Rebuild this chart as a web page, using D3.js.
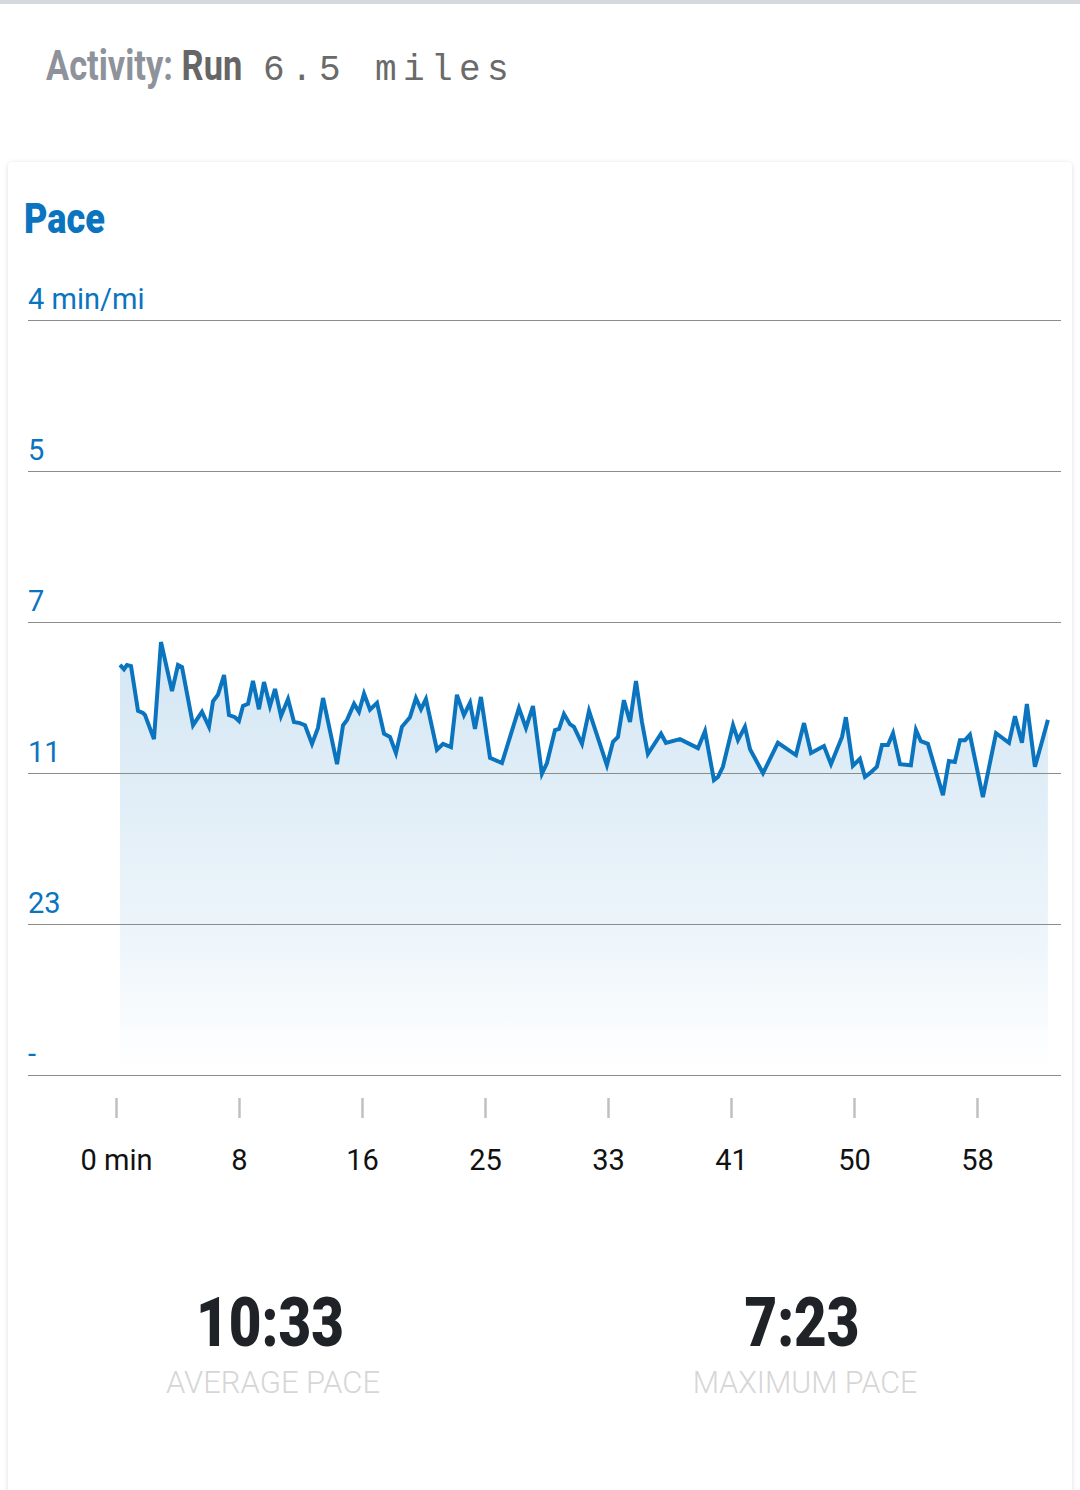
<!DOCTYPE html>
<html><head><meta charset="utf-8">
<script src="https://cdn.jsdelivr.net/npm/d3@7"></script>
<style>body{margin:0;background:#fff;} svg{display:block}</style>
</head><body>
<svg id="c" width="1080" height="1490"></svg>
<script>
// elapsed time (minutes)
const times = [0.20,0.47,0.67,0.94,1.41,1.74,1.88,2.48,2.95,3.69,4.09,4.36,5.10,5.70,6.17,6.44,6.77,7.18,7.51,7.91,
8.18,8.45,8.79,9.12,9.52,9.86,10.26,10.60,11.00,11.47,11.87,12.27,12.61,13.08,13.48,13.82,14.76,15.16,15.43,15.90,
16.23,16.57,16.97,17.44,17.91,18.31,18.71,19.11,19.65,20.05,20.39,20.72,21.46,21.87,22.40,22.80,23.27,23.68,24.01,24.41,
25.02,25.82,26.96,27.43,27.90,28.50,28.84,29.38,29.65,29.98,30.38,30.65,31.19,31.66,32.86,33.27,33.60,34.00,34.41,34.81,
35.21,35.61,36.49,36.82,37.76,38.97,39.44,40.04,40.31,40.64,41.32,41.65,42.12,42.46,43.33,44.33,45.54,46.08,46.55,47.42,
47.89,48.63,48.89,49.36,49.83,50.17,50.50,50.97,51.31,51.71,52.05,52.52,53.25,53.59,53.92,54.39,55.40,55.80,56.20,56.54,
56.88,57.21,58.08,58.96,59.83,60.23,60.70,61.03,61.57,62.11,62.44];
// speed (mph)
const speeds = [7.69,7.61,7.69,7.67,6.83,6.79,6.75,6.30,8.12,7.20,7.69,7.65,6.56,6.81,6.53,7.01,7.13,7.50,6.75,6.71,
6.64,6.92,6.96,7.39,6.86,7.37,6.92,7.24,6.73,7.05,6.62,6.60,6.56,6.21,6.51,7.07,5.83,6.56,6.66,6.96,
6.81,7.15,6.85,6.98,6.40,6.34,6.04,6.53,6.71,7.07,6.86,7.05,6.10,6.21,6.15,7.13,6.75,6.98,6.49,7.09,
5.95,5.85,6.88,6.51,6.92,5.65,5.85,6.47,6.49,6.77,6.58,6.53,6.21,6.83,5.81,6.25,6.34,7.03,6.62,7.39,
6.62,6.02,6.40,6.23,6.30,6.13,6.45,5.53,5.59,5.78,6.56,6.28,6.53,6.11,5.66,6.23,6.00,6.60,6.04,6.17,
5.83,6.34,6.71,5.80,5.93,5.59,5.66,5.78,6.19,6.19,6.41,5.83,5.81,6.47,6.26,6.21,5.25,5.89,5.87,6.28,
6.28,6.38,5.21,6.41,6.23,6.73,6.23,6.96,5.78,6.32,6.66];

const yTickValues = [0, 2.832, 5.664, 8.496, 11.328, 14.16];
const yTickLabels = ["-", "23", "11", "7", "5", "4 min/mi"];
const xTickValues = [0, 8.25, 16.5, 24.75, 33, 41.25, 49.5, 57.75];
const xTickLabels = ["0 min", "8", "16", "25", "33", "41", "50", "58"];
const statValues = ["10:33", "7:23"];
const statLabels = ["AVERAGE PACE", "MAXIMUM PACE"];

const BLUE = "#0a74bf";
const svg = d3.select("#c");
const defs = svg.append("defs");
const f = defs.append("filter").attr("id","sh").attr("x","-5%").attr("y","-5%").attr("width","110%").attr("height","110%");
f.append("feDropShadow").attr("dx",0).attr("dy",1).attr("stdDeviation",2.5).attr("flood-color","#000").attr("flood-opacity",0.14);

const g1 = defs.append("linearGradient").attr("id","ag").attr("gradientUnits","userSpaceOnUse")
  .attr("x1",0).attr("x2",0).attr("y1",640).attr("y2",1070);
g1.append("stop").attr("offset",0).attr("stop-color","#0a74bf").attr("stop-opacity",0.18);
g1.append("stop").attr("offset",0.7).attr("stop-color","#0a74bf").attr("stop-opacity",0.07);
g1.append("stop").attr("offset",1).attr("stop-color","#0a74bf").attr("stop-opacity",0.0);

// top border
svg.append("rect").attr("x",0).attr("y",0).attr("width",1080).attr("height",4).attr("fill","#d5d8dc");

// header
const hg = svg.append("g").attr("transform","translate(46,80) scale(0.82,1)");
const ht = hg.append("text").attr("font-family","Roboto").attr("font-weight",700).attr("font-size",42);
ht.append("tspan").attr("fill","#8e929a").text("Activity: ");
ht.append("tspan").attr("fill","#666").text("Run");
svg.append("text").attr("x",263).attr("y",80).attr("font-family","Liberation Mono, monospace")
  .attr("font-size",36).attr("letter-spacing",6.4).attr("fill","#6a6a6a").text("6.5 miles");

// card
svg.append("rect").attr("x",8).attr("y",162).attr("width",1064).attr("height",1340).attr("rx",5)
  .attr("fill","#fff").attr("filter","url(#sh)");

svg.append("g").attr("transform","translate(24,233) scale(0.86,1)")
  .append("text").attr("font-family","Roboto").attr("font-weight",900).attr("font-size",42)
  .attr("fill",BLUE).text("Pace");

const x = d3.scaleLinear().domain([0, 62.5]).range([117, 1048.8]);
const y = d3.scaleLinear().domain([0, 14.16]).range([1075, 320]);
const data = times.map((t,i)=>({t, v:speeds[i]}));

// area
svg.append("path").datum(data)
  .attr("d", d3.area().x(d=>x(d.t)).y0(y(0)).y1(d=>y(d.v)))
  .attr("fill","url(#ag)");

// grid + y labels
yTickValues.forEach((v,i)=>{
  svg.append("line").attr("x1",28).attr("x2",1061).attr("y1",Math.round(y(v))+0.5).attr("y2",Math.round(y(v))+0.5)
    .attr("stroke","#8c8c8c").attr("stroke-width",1);
  svg.append("text").attr("x",28).attr("y",y(v)-11).attr("font-family","Roboto").attr("font-size",29)
    .attr("fill",BLUE).text(yTickLabels[i]);
});

// line
svg.append("path").datum(data)
  .attr("d", d3.line().x(d=>x(d.t)).y(d=>y(d.v)))
  .attr("fill","none").attr("stroke",BLUE).attr("stroke-width",4).attr("stroke-linejoin","miter");

// x axis
const xa = d3.axisBottom(x).tickValues(xTickValues).tickSize(0).tickFormat((d,i)=>xTickLabels[i]);
const xg = svg.append("g").attr("transform","translate(-1,1098)").call(xa);
xg.select(".domain").remove();
xg.selectAll(".tick").append("line").attr("x1",0).attr("x2",0).attr("y1",0).attr("y2",20)
  .attr("stroke","#c0c0c0").attr("stroke-width",2.5);
xg.selectAll(".tick text").attr("y",72).attr("dy",0).attr("font-family","Roboto").attr("font-size",29)
  .attr("fill","#111");

// stats
const cx = [270, 802];
statValues.forEach((s,i)=>{
  svg.append("g").attr("transform",`translate(${cx[i]},1346) scale(0.83,1)`)
    .append("text").attr("text-anchor","middle").attr("font-family","Roboto").attr("font-weight",900)
    .attr("font-size",68).attr("fill","#1f2327").text(s);
  svg.append("g").attr("transform",`translate(${cx[i]+3},1393) scale(${i===0?1.0:0.98},1)`)
    .append("text").attr("text-anchor","middle").attr("font-family","Roboto").attr("font-weight",300)
    .attr("font-size",31).attr("fill","#d6d6d6").text(statLabels[i]);
});
</script>
</body></html>
